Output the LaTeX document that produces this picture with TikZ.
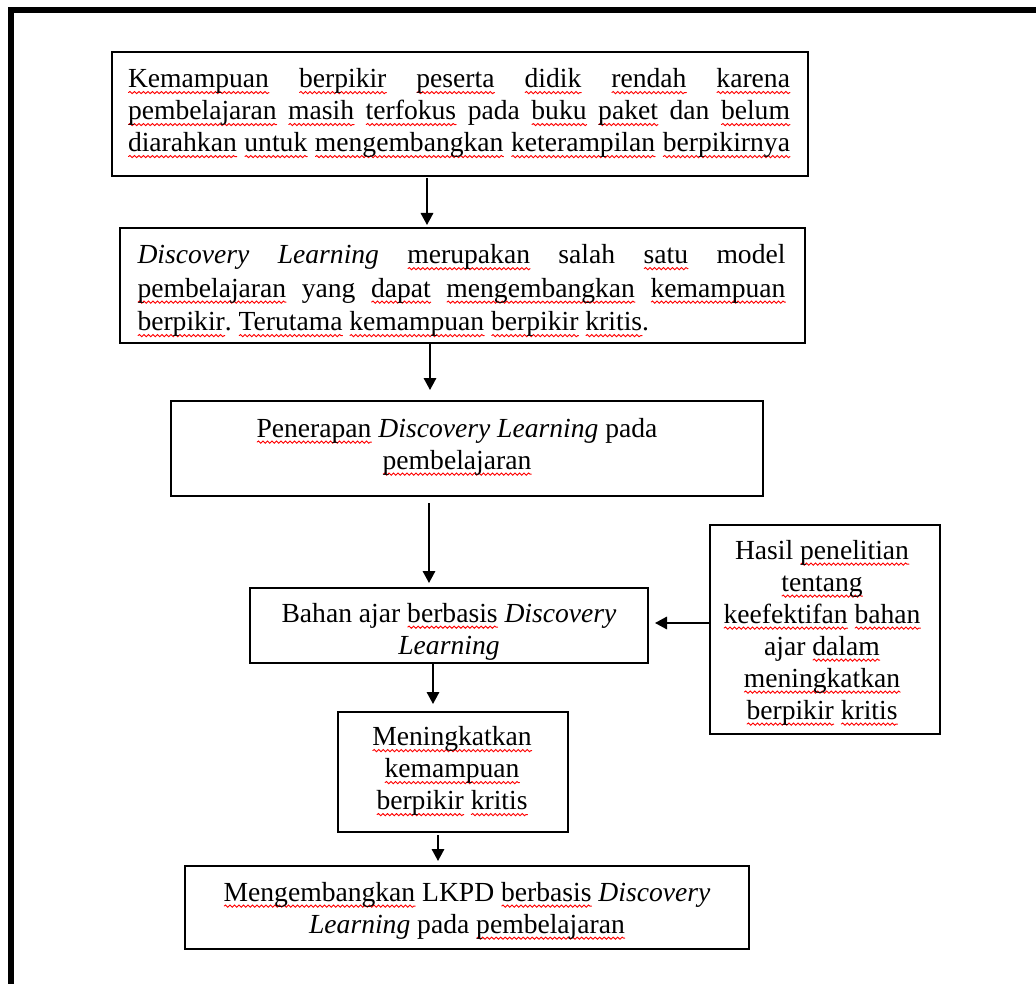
\documentclass[tikz,border=0pt]{standalone}
\usepackage{fontspec}
\setmainfont{Liberation Serif}
\usetikzlibrary{arrows.meta,decorations.pathmorphing}
\frenchspacing
\newsavebox\sqbox
\newcommand\sq[1]{\sbox\sqbox{#1}\rlap{\tikz[overlay,baseline=0pt]\draw[red, line width=0.9pt, line cap=round, decorate, decoration={snake, amplitude=1.1pt, segment length=4.5pt}] (0.5pt,-5pt) -- (\wd\sqbox,-5pt);}\usebox\sqbox}
\newcommand\jline[2]{\makebox[#1][s]{\spaceskip=0pt\xspaceskip=0pt #2}}
\begin{document}
\begin{tikzpicture}[x=1pt,y=-1pt,
  font=\fontsize{27.6}{32}\selectfont\frenchspacing,
  box/.style={draw=black, line width=1.3pt, inner sep=0pt, outer sep=0pt},
  txt/.style={inner sep=0pt, align=center},
  arr/.style={line width=1.7pt, -{Triangle[width=12.5pt,length=12pt]}},
  frameline/.style={line width=6pt}]
\useasboundingbox (0,0) rectangle (1036,984);
\draw[frameline] (11,990) -- (11,10) -- (1042,10);

% boxes
\node[box, minimum width=696pt, minimum height=124pt] (b1) at (460,114) {};
\node[box, minimum width=685pt, minimum height=115pt] (b2) at (462.5,285.5) {};
\node[box, minimum width=592pt, minimum height=95pt] (b3) at (467,448.5) {};
\node[box, minimum width=398pt, minimum height=75pt] (b4) at (449,625.5) {};
\node[box, minimum width=230pt, minimum height=209pt] (b5) at (825,629.5) {};
\node[box, minimum width=230pt, minimum height=120pt] (b6) at (453,772) {};
\node[box, minimum width=564pt, minimum height=83pt] (b7) at (467,907.5) {};

% texts
\node[txt] (t1) at ([shift={(-1,-1)}]b1.center)
 {\jline{662pt}{\sq{Kemampuan} \sq{berpikir} \sq{peserta} \sq{didik} \sq{rendah} \sq{karena}}\\
  \jline{662pt}{\sq{pembelajaran} \sq{masih} \sq{terfokus} pada \sq{buku} \sq{paket} dan \sq{belum}}\\
  \jline{662pt}{\sq{diarahkan} \sq{untuk} \sq{mengembangkan} \sq{keterampilan} \sq{berpikirnya}}};

\node[txt] (t2) at ([shift={(-1,5)}]b2.center)
 {\jline{648pt}{\textit{Discovery} \textit{Learning} \sq{merupakan} salah \sq{satu} model}\\[1.5pt]
  \jline{648pt}{\sq{pembelajaran} yang \sq{dapat} \sq{mengembangkan} \sq{kemampuan}}\\[1.5pt]
  \makebox[648pt][l]{\sq{berpikir}. \sq{Terutama} \sq{kemampuan} \sq{berpikir} \sq{kritis}.}};

\node[txt] (t3) at ([shift={(-10,-2)}]b3.center)
 {\sq{Penerapan} \textit{Discovery Learning} pada\\ \sq{pembelajaran}};

\node[txt] (t4) at ([shift={(0,6)}]b4.center)
 {Bahan ajar \sq{berbasis} \textit{Discovery}\\ \textit{Learning}};

\node[txt] (t5) at ([shift={(-3,3)}]b5.center)
 {Hasil \sq{penelitian}\\ \sq{tentang}\\ \sq{keefektifan} \sq{bahan}\\ ajar \sq{dalam}\\ \sq{meningkatkan}\\ \sq{berpikir} \sq{kritis}};

\node[txt] (t6) at ([shift={(-1,-1)}]b6.center)
 {\sq{Meningkatkan}\\ \sq{kemampuan}\\ \sq{berpikir} \sq{kritis}};

\node[txt] (t7) at ([shift={(0,3)}]b7.center)
 {\sq{Mengembangkan} LKPD \sq{berbasis} \textit{Discovery}\\ \textit{Learning} pada \sq{pembelajaran}};

% connectors
\coordinate (x1) at (427,0);
\coordinate (x2) at (430,0);
\coordinate (x3) at (429,0);
\coordinate (x5) at (433,0);
\coordinate (x6) at (438,0);
\coordinate (y4) at (0,623);

\draw[arr, shorten <=2pt, shorten >=3pt] (x1 |- b1.south) -- (x1 |- b2.north);
\draw[arr, shorten >=11pt] (x2 |- b2.south) -- (x2 |- b3.north);
\draw[arr, shorten <=7pt, shorten >=5pt] (x3 |- b3.south) -- (x3 |- b4.north);
\draw[arr, shorten >=7pt] (b5.west |- y4) -- (b4.east |- y4);
\draw[arr, shorten <=1pt, shorten >=8pt] (x5 |- b4.south) -- (x5 |- b6.north);
\draw[arr, shorten <=3pt, shorten >=5pt] (x6 |- b6.south) -- (x6 |- b7.north);
\end{tikzpicture}
\end{document}
